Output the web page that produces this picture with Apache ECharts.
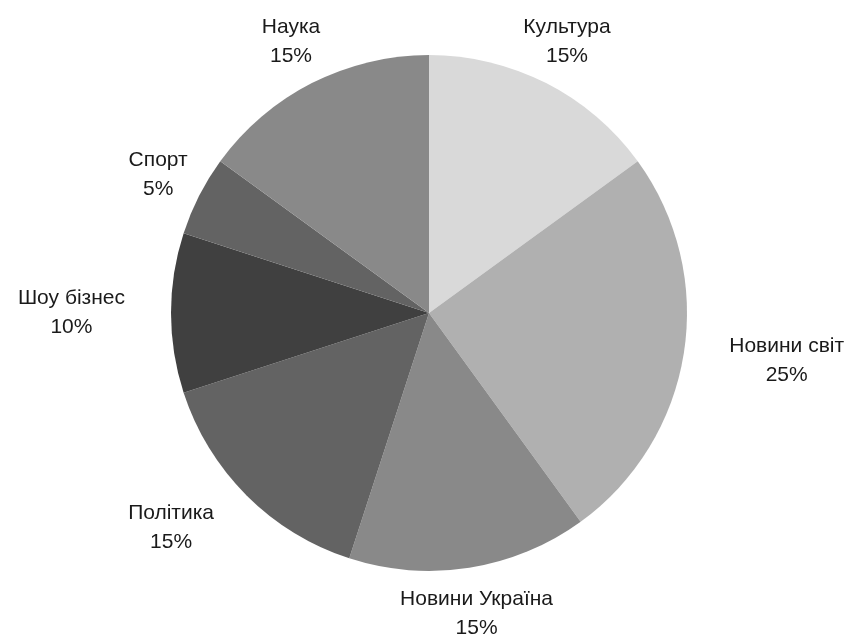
<!DOCTYPE html>
<html>
<head>
<meta charset="utf-8">
<script src="https://cdn.jsdelivr.net/npm/echarts@6/dist/echarts.min.js"></script>
<style>
  html, body { margin: 0; padding: 0; background: #fff; }
  #chart { width: 853px; height: 639px; }
</style>
</head>
<body>
<div id="chart"></div>
<script>
// categories, clockwise from 12 o'clock
const categories = ['Культура', 'Новини світ', 'Новини Україна', 'Політика', 'Шоу бізнес', 'Спорт', 'Наука'];
const shares = [15, 25, 15, 15, 10, 5, 15];
const sliceColors = ['#d9d9d9', '#b0b0b0', '#898989', '#636363', '#404040', '#636363', '#898989'];

const CX = 429;
const CY = 313;
const R = 258;
const LABEL_GAP = 46;

const total = shares.reduce((a, b) => a + b, 0);
// mid angle of each slice (radians, clockwise from top)
const midAngles = [];
let acc = 0;
shares.forEach(v => {
  midAngles.push(((acc + v / 2) / total) * Math.PI * 2);
  acc += v;
});

const chart = echarts.init(document.getElementById('chart'));

chart.setOption({
  backgroundColor: '#fff',
  animation: false,
  series: [
    {
      type: 'pie',
      center: [CX, CY],
      radius: [0, R],
      startAngle: 90,
      clockwise: true,
      avoidLabelOverlap: false,
      itemStyle: { borderWidth: 0 },
      label: {
        show: true,
        position: 'outside',
        formatter: p => p.name + '\n' + p.value + '%',
        fontFamily: 'Liberation Sans',
        fontSize: 21,
        lineHeight: 29,
        color: '#1a1a1a',
        align: 'center'
      },
      labelLine: { show: false, length: 0, length2: 0 },
      // put the label box centred on the ray, or push it sideways when it would cover the pie
      labelLayout: function (params) {
        const a = midAngles[params.dataIndex];
        const ux = Math.sin(a);
        const uy = -Math.cos(a);
        const px = CX + (R + LABEL_GAP) * ux;
        const py = CY + (R + LABEL_GAP) * uy;
        const w = params.labelRect.width;
        const h = params.labelRect.height;
        let x = px;
        // nearest corner of centred box to the pie centre
        const nx = Math.max(Math.abs(px - CX) - w / 2, 0);
        const ny = Math.max(Math.abs(py - CY) - h / 2, 0);
        if (Math.sqrt(nx * nx + ny * ny) < R) {
          x = ux > 0 ? px + w / 2 : px - w / 2;
        }
        return { x: x, y: py, align: 'center', verticalAlign: 'middle' };
      },
      data: categories.map((name, i) => ({
        name,
        value: shares[i],
        itemStyle: { color: sliceColors[i] }
      }))
    }
  ]
});
</script>
</body>
</html>
